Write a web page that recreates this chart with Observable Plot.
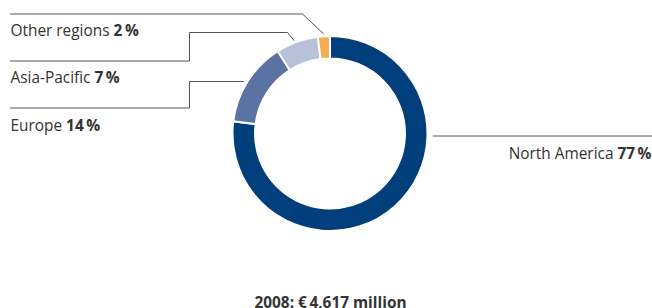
<!DOCTYPE html>
<html><head><meta charset="utf-8">
<script src="https://cdn.jsdelivr.net/npm/d3@7"></script>
<script src="https://cdn.jsdelivr.net/npm/@observablehq/plot@0.6"></script>
<style>body{margin:0;background:#fff}</style>
</head><body><div id="chart"></div>
<script>
// ---- data ----
const regions = ["North America", "Europe", "Asia-Pacific", "Other regions"];
const shares = [77, 14, 7, 2];
const colors = ["#003e7c", "#5a73a3", "#b8c1da", "#f7ad55"];
const caption = "2008: €\u20094,617 million";

// ---- layout ----
const W = 652, H = 308;
const cx = 330, cy = 133.5, R = 97.5, R0 = 75;
const FS = 15.4;
const slices = d3.pie().sort(null).value(d => d)(shares)
  .map((p, i) => ({...p, region: regions[i], color: colors[i]}));

const polar = (deg, r) => [cx + r * Math.sin(deg * Math.PI / 180), cy - r * Math.cos(deg * Math.PI / 180)];

// label layout: baseline positions, leader polylines ending on the ring
const labelLayout = [
  {i: 3, x: 10, y: 35.5, anchor: "start"},
  {i: 2, x: 10, y: 82, anchor: "start"},
  {i: 1, x: 10, y: 130, anchor: "start"},
  {i: 0, x: 651, y: 158.5, anchor: "end"}
];
const eurY = 81;
const eurX = cx - Math.sqrt(101.6 ** 2 - (eurY - cy) ** 2);
const leaders = [
  {id: 3, pts: [[10, 13.5], [302, 13.5], polar(356, 100.5)]},
  {id: 2, pts: [[10, 60.5], [189, 60.5], [189, 32], [287, 32], polar(338.7, 100.5)]},
  {id: 1, pts: [[10, 107.5], [189, 107.5], [189, eurY], [eurX, eurY]]},
  {id: 0, pts: [[cx + R + 5, 135.5], [W, 135.5]]}
].flatMap(l => l.pts.map(([x, y]) => ({id: l.id, x, y})));

const labels = labelLayout.map(l => ({
  x: l.x, y: l.y, anchor: l.anchor,
  text: regions[l.i] + "|" + shares[l.i] + "\u2009%"
}));

function donut(index, scales) {
  const X = scales.x, Y = scales.y;
  const k = X(1) - X(0);
  const arc = d3.arc().innerRadius(R0 * k).outerRadius(R * k);
  const g = d3.create("svg:g").attr("transform", `translate(${X(cx)},${Y(cy)})`);
  g.selectAll("path").data(slices).join("path")
    .attr("d", arc).attr("fill", d => d.color)
    .attr("stroke", "#fff").attr("stroke-width", 2);
  return g.node();
}

const textOpts = {x: "x", y: "y", text: "text", lineAnchor: "bottom", fill: "#333", fontSize: FS};
const chart = Plot.plot({
  width: W, height: H, margin: 0,
  x: {domain: [0, W], range: [0, W], axis: null},
  y: {domain: [0, H], range: [0, H], axis: null},
  style: {fontFamily: "'Open Sans', sans-serif", fontSize: FS + "px", background: "#fff", overflow: "hidden"},
  marks: [
    Plot.line(leaders, {x: "x", y: "y", z: "id", stroke: "#555", strokeWidth: 1}),
    donut,
    Plot.text(labels.filter(d => d.anchor === "start"), {...textOpts, textAnchor: "start"}),
    Plot.text(labels.filter(d => d.anchor === "end"), {...textOpts, textAnchor: "end"}),
    Plot.text([caption], {x: () => cx, y: () => 307, text: d => d, textAnchor: "middle", lineAnchor: "bottom", fill: "#333", fontSize: FS, fontWeight: "bold"})
  ]
});

d3.select(chart).selectAll("text").each(function () {
  const t = this.textContent;
  if (t.includes("|")) {
    const [a, b] = t.split("|");
    const s = d3.select(this);
    s.text(null);
    s.append("tspan").text(a + " ");
    s.append("tspan").attr("font-weight", "bold").text(b);
  }
});
document.getElementById("chart").append(chart);
</script>
</body></html>
